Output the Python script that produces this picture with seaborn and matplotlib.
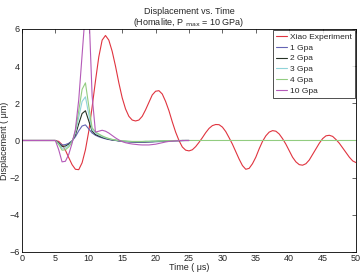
"""Displacement vs. time: Xiao experiment against simulated Pmax levels"""

from matplotlib import pyplot as plt
import pandas as pd
import seaborn as sns

# experiment, sampled every 0.5 us from 0 to 50
t_exp = [i * 0.5 for i in range(101)]
xiao = [
    0.0, 0.0, 0.0, 0.0, 0.0, 0.0, 0.0, 0.0, 0.0, 0.0,
    0.0, -0.05, -0.22, -0.52, -0.92, -1.3, -1.55, -1.57, -1.2, -0.5,
    0.5, 1.8, 3.2, 4.5, 5.4, 5.65, 5.4, 4.8, 4.0, 3.1,
    2.3, 1.7, 1.3, 1.1, 1.05, 1.1, 1.3, 1.65, 2.05, 2.45,
    2.65, 2.68, 2.5, 2.1, 1.6, 1.0, 0.45, 0.0, -0.35, -0.52,
    -0.56, -0.5, -0.33, -0.1, 0.15, 0.42, 0.65, 0.8, 0.86, 0.85,
    0.72, 0.48, 0.15, -0.2, -0.6, -1.0, -1.35, -1.55, -1.5, -1.25,
    -0.9, -0.45, -0.05, 0.25, 0.45, 0.53, 0.5, 0.35, 0.1, -0.2,
    -0.55, -0.9, -1.15, -1.3, -1.33, -1.25, -1.05, -0.75, -0.45, -0.15,
    0.1, 0.25, 0.28, 0.22, 0.05, -0.15, -0.4, -0.65, -0.9, -1.1,
    -1.19,
]

# simulations, sampled every 0.5 us from 0 to 25
t_sim = [i * 0.5 for i in range(51)]
gpa1 = [
    0.0, 0.0, 0.0, 0.0, 0.0, 0.0, 0.0, 0.0, 0.0, 0.0, 0.0,
    -0.12, -0.24, -0.22, -0.15, -0.02, 0.2, 0.52, 0.78, 0.84, 0.62,
    0.4, 0.28, 0.2, 0.14, 0.09, 0.05, 0.02, 0.0, -0.03, -0.05,
    -0.07, -0.08, -0.09, -0.1, -0.1, -0.1, -0.09, -0.09, -0.08, -0.07,
    -0.06, -0.05, -0.04, -0.03, -0.02, -0.02, -0.01, -0.01, 0.0, 0.0,
]
gpa2 = [
    0.0, 0.0, 0.0, 0.0, 0.0, 0.0, 0.0, 0.0, 0.0, 0.0, 0.0,
    -0.15, -0.32, -0.3, -0.2, -0.03, 0.3, 0.9, 1.45, 1.6, 1.05,
    0.5, 0.32, 0.24, 0.17, 0.11, 0.07, 0.03, 0.01, -0.02, -0.04,
    -0.05, -0.06, -0.07, -0.07, -0.07, -0.07, -0.07, -0.06, -0.06, -0.05,
    -0.04, -0.04, -0.03, -0.02, -0.02, -0.01, -0.01, 0.0, 0.0, 0.0,
]
gpa3 = [
    0.0, 0.0, 0.0, 0.0, 0.0, 0.0, 0.0, 0.0, 0.0, 0.0, 0.0,
    -0.18, -0.42, -0.4, -0.27, -0.05, 0.4, 1.25, 2.1, 2.35, 1.4,
    0.58, 0.4, 0.3, 0.21, 0.14, 0.09, 0.05, 0.02, -0.01, -0.03,
    -0.04, -0.05, -0.06, -0.06, -0.06, -0.06, -0.05, -0.05, -0.04, -0.04,
    -0.03, -0.03, -0.02, -0.02, -0.01, -0.01, 0.0, 0.0, 0.0, 0.0,
]
# 4 GPa run goes on to 50 us, flat at zero
t_gpa4 = t_sim + [30.0, 35.0, 40.0, 45.0, 50.0]
gpa4 = [
    0.0, 0.0, 0.0, 0.0, 0.0, 0.0, 0.0, 0.0, 0.0, 0.0, 0.0,
    -0.22, -0.52, -0.5, -0.35, -0.08, 0.5, 1.6, 2.75, 3.1, 1.85,
    0.68, 0.46, 0.35, 0.25, 0.17, 0.11, 0.06, 0.03, 0.0, -0.02,
    -0.03, -0.04, -0.05, -0.05, -0.05, -0.05, -0.04, -0.04, -0.03, -0.03,
    -0.02, -0.02, -0.01, -0.01, -0.01, 0.0, 0.0, 0.0, 0.0, 0.0,
    0.0, 0.0, 0.0, 0.0, 0.0,
]
gpa10 = [
    0.0, 0.0, 0.0, 0.0, 0.0, 0.0, 0.0, 0.0, 0.0, 0.0, 0.0,
    -0.5, -1.15, -1.12, -0.75, -0.15, 0.6, 2.2, 4.6, 7.0, 7.2,
    2.4, 0.45, 0.5, 0.55, 0.5, 0.4, 0.27, 0.14, 0.03, -0.06,
    -0.12, -0.16, -0.19, -0.21, -0.23, -0.24, -0.24, -0.24, -0.22, -0.2,
    -0.16, -0.12, -0.08, -0.05, -0.03, -0.02, -0.01, 0.0, 0.0, 0.0,
]

labels = ["Xiao Experiment", "1 Gpa", "2 Gpa", "3 Gpa", "4 Gpa", "10 Gpa"]
colors = ["#e0343f", "#6464b4", "#263326", "#8fd3d8", "#92cc80", "#b45ab8"]


def build_df():
    parts = []
    series = [
        (t_exp, xiao), (t_sim, gpa1), (t_sim, gpa2),
        (t_sim, gpa3), (t_gpa4, gpa4), (t_sim, gpa10),
    ]
    for label, (t, y) in zip(labels, series):
        parts.append(pd.DataFrame({"time": t, "disp": y, "run": label}))
    return pd.concat(parts, ignore_index=True)


def main():
    sns.set_style("white")
    plt.rcParams["font.family"] = ["Liberation Sans", "DejaVu Sans"]
    plt.rcParams["font.size"] = 6.5

    df = build_df()
    fig = plt.figure(figsize=(3.6, 2.76), dpi=100)
    ax = fig.add_axes([0.061, 0.087, 0.928, 0.808])

    sns.lineplot(
        data=df, x="time", y="disp", hue="run", hue_order=labels,
        palette=dict(zip(labels, colors)), sort=False, estimator=None,
        linewidth=0.8, ax=ax,
    )

    ax.set_xlim(0, 50)
    ax.set_ylim(-6, 6)
    ax.set_xticks(range(0, 51, 5))
    ax.set_yticks(range(-6, 7, 2))
    ax.tick_params(direction="in", length=3, width=0.5, top=True, right=True,
                   labelsize=6.5, pad=1.5)
    for s in ax.spines.values():
        s.set_color("black")
        s.set_linewidth(0.6)

    ax.set_xlabel("Time ( \u03bcs)", fontsize=6.5, labelpad=0)
    ax.set_ylabel("Displacement ( \u03bcm)", fontsize=6.5)
    ax.yaxis.set_label_coords(-0.038, 0.5)
    ax.set_title("Displacement vs. Time\n(Homalite, P $_{\\mathrm{max}}$ = 10 GPa)",
                 fontsize=6.5, pad=3, linespacing=1.0)

    leg = ax.legend(loc="upper right", fontsize=6, frameon=True, fancybox=False,
                    edgecolor="black", handlelength=1.4, handletextpad=0.3,
                    borderaxespad=0.15, borderpad=0.35, labelspacing=0.35)
    leg.get_frame().set_linewidth(0.6)

    fig.savefig("out.png", dpi=100)


if __name__ == "__main__":
    main()
